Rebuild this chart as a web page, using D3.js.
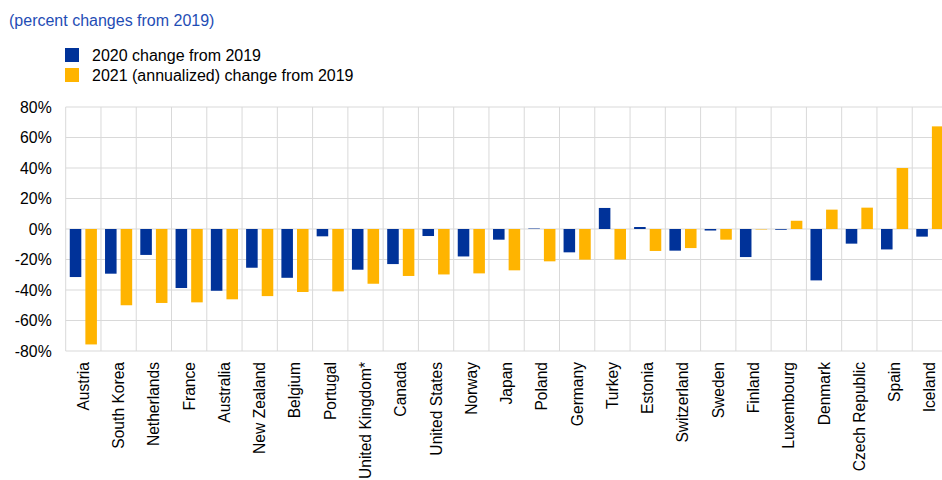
<!doctype html>
<html lang="en">
  <head>
    <meta charset="utf-8">
    <title>Percent changes from 2019</title>
    <script src="https://d3js.org/d3.v7.min.js"></script>
    <style>
      body { margin: 0; background: #fff; }
      svg { display: block; font-family: "Liberation Sans", Arial, sans-serif; }
    </style>
  </head>
  <body>
    <div id="chart"></div>
    <script>
      // data
      const countries = ["Austria", "South Korea", "Netherlands", "France", "Australia", "New Zealand",
        "Belgium", "Portugal", "United Kingdom*", "Canada", "United States", "Norway", "Japan",
        "Poland", "Germany", "Turkey", "Estonia", "Switzerland", "Sweden", "Finland",
        "Luxembourg", "Denmark", "Czech Republic", "Spain", "Iceland"];
      const change2020 = [-31.5, -29.3, -17, -38.7, -40.5, -25.4, -32, -4.8, -26.7, -23, -4.6, -18, -7,
        0.3, -15.3, 13.8, 1.3, -14.2, -1, -18.4, -0.5, -33.7, -9.6, -13.4, -5];
      const change2021 = [-75.7, -50, -48.5, -48.1, -46.1, -44, -41.3, -40.9, -35.9, -30.8, -29.8, -29.1, -27.1,
        -21.2, -20.1, -20, -14.4, -12.5, -7, -0.3, 5.4, 12.7, 14, 40, 67.3];
      const seriesNames = ["2020 change from 2019", "2021 (annualized) change from 2019"];
      const colors = ["#003299", "#ffb400"];
      const yTicks = [80, 60, 40, 20, 0, -20, -40, -60, -80];

      const W = 942, H = 480;
      const plot = {left: 65.7, right: 947.5, top: 107, bottom: 351};

      const svg = d3.select("#chart").append("svg")
        .attr("width", W).attr("height", H);

      const x = d3.scaleBand()
        .domain(countries)
        .range([plot.left, plot.right]);
      const inner = d3.scaleBand()
        .domain([0, 1])
        .range([0, x.bandwidth()])
        .paddingInner(0.26)
        .paddingOuter(0.26);
      const y = d3.scaleLinear()
        .domain([-80, 80])
        .range([plot.bottom, plot.top]);

      // grid
      const grid = svg.append("g").attr("stroke", "#d9d9d9").attr("stroke-width", 1);
      grid.selectAll("line.h").data(yTicks).join("line")
        .attr("x1", plot.left).attr("x2", plot.right)
        .attr("y1", d => y(d)).attr("y2", d => y(d));
      grid.selectAll("line.v").data(countries.concat([null])).join("line")
        .attr("x1", (d, i) => plot.left + i * x.step())
        .attr("x2", (d, i) => plot.left + i * x.step())
        .attr("y1", plot.top).attr("y2", plot.bottom);

      // y axis labels
      const yAxis = svg.append("g")
        .attr("transform", `translate(${plot.left},0)`)
        .call(d3.axisLeft(y).tickValues(yTicks).tickSize(0).tickPadding(14).tickFormat(d => d + "%"));
      yAxis.select(".domain").remove();
      yAxis.selectAll("text").attr("font-size", "15.8px").attr("fill", "#000")
        .attr("font-family", "'Liberation Sans', Arial, sans-serif");

      // bars
      const series = [change2020, change2021];
      series.forEach((vals, s) => {
        svg.append("g").selectAll("rect").data(vals).join("rect")
          .attr("x", (d, i) => x(countries[i]) + inner(s))
          .attr("width", inner.bandwidth())
          .attr("y", d => y(Math.max(0, d)))
          .attr("height", d => Math.abs(y(d) - y(0)))
          .attr("fill", colors[s]);
      });

      // x labels
      const xAxis = svg.append("g")
        .attr("transform", `translate(0,${plot.bottom})`)
        .call(d3.axisBottom(x).tickSize(0).tickPadding(0));
      xAxis.select(".domain").remove();
      xAxis.selectAll("text")
        .attr("font-size", "15.6px").attr("fill", "#000")
        .attr("font-family", "'Liberation Sans', Arial, sans-serif")
        .attr("text-anchor", "end")
        .attr("dy", "0.35em")
        .attr("transform", "translate(0,11) rotate(-90)")
        .attr("y", 0).attr("x", 0);

      // title
      svg.append("text")
        .attr("x", 9).attr("y", 26)
        .attr("font-size", "16px").attr("fill", "#1f4db5")
        .text("(percent changes from 2019)");

      // legend
      const legend = svg.append("g");
      seriesNames.forEach((name, i) => {
        legend.append("rect")
          .attr("x", 65).attr("y", 48 + i * 20)
          .attr("width", 14).attr("height", 14)
          .attr("fill", colors[i]);
        legend.append("text")
          .attr("x", 92).attr("y", 61 + i * 20)
          .attr("font-size", "16px").attr("fill", "#000")
          .text(name);
      });
    </script>
  </body>
</html>
